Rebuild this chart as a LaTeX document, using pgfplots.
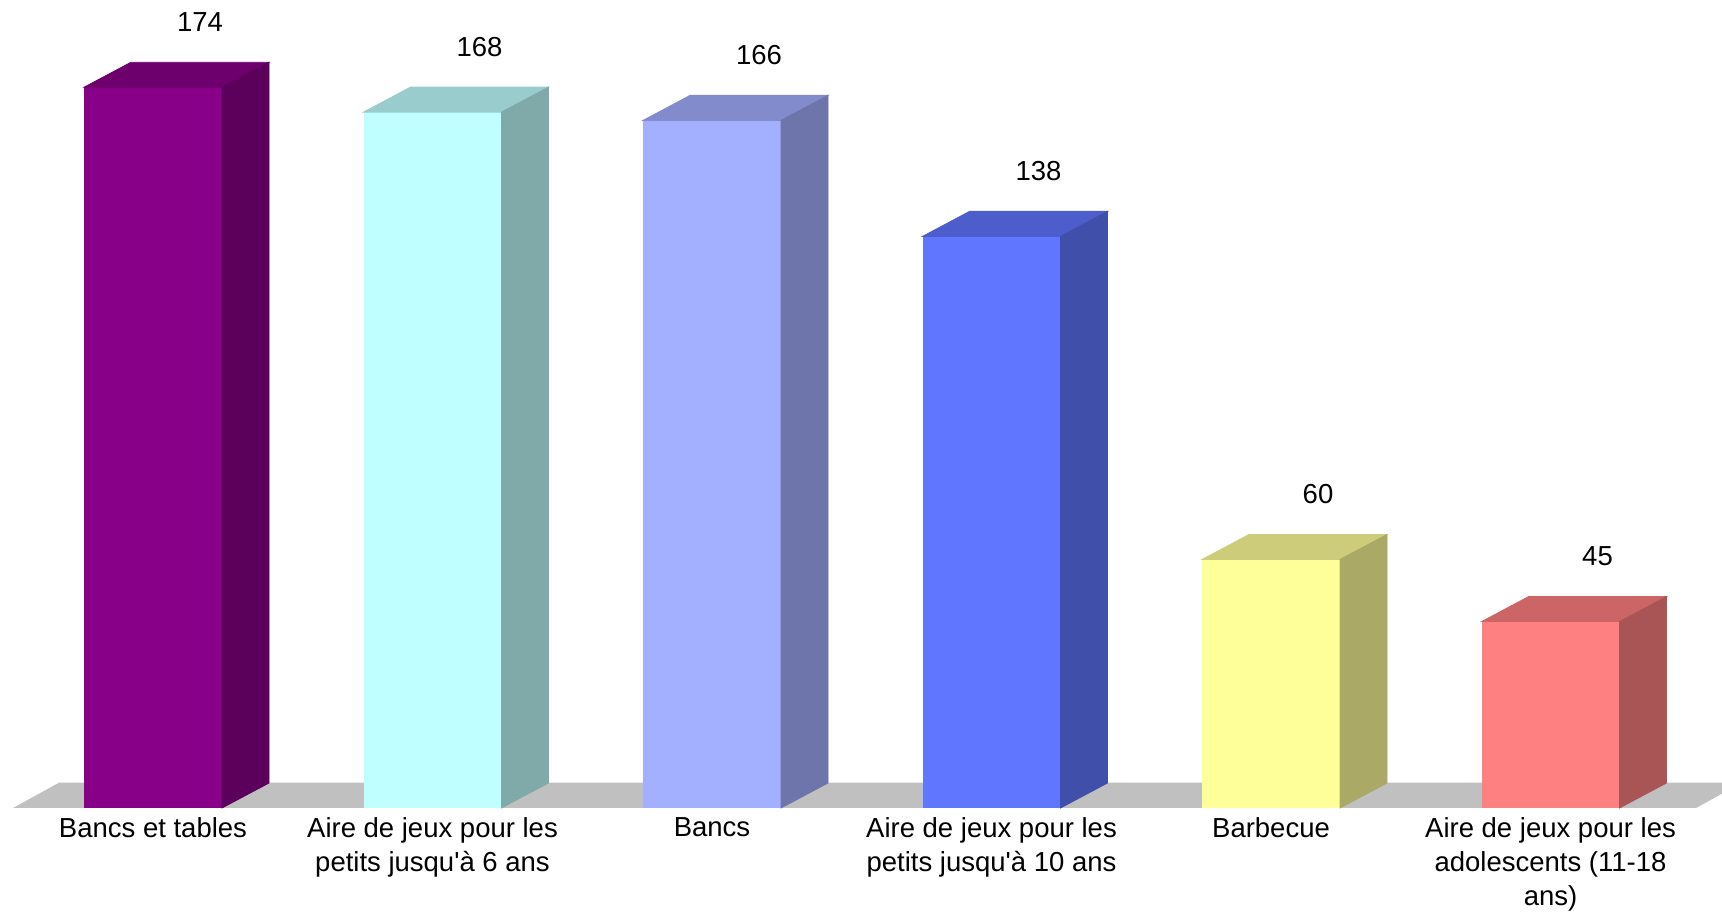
\documentclass[border=0pt]{standalone}
\usepackage{pgfplots}
\pgfplotsset{compat=1.18}
\usepackage{fontspec}
\setmainfont{Liberation Sans}
\usetikzlibrary{calc}

\definecolor{f1}{HTML}{880088}\definecolor{t1}{HTML}{6D006D}\definecolor{s1}{HTML}{5B005B}
\definecolor{f2}{HTML}{C0FFFF}\definecolor{t2}{HTML}{99CCCC}\definecolor{s2}{HTML}{80AAAA}
\definecolor{f3}{HTML}{A3AFFF}\definecolor{t3}{HTML}{828CCC}\definecolor{s3}{HTML}{6D75AA}
\definecolor{f4}{HTML}{6076FF}\definecolor{t4}{HTML}{4D5ECC}\definecolor{s4}{HTML}{404FAA}
\definecolor{f5}{HTML}{FFFF99}\definecolor{t5}{HTML}{CCCC7A}\definecolor{s5}{HTML}{AAAA66}
\definecolor{f6}{HTML}{FF8080}\definecolor{t6}{HTML}{CC6666}\definecolor{s6}{HTML}{AA5555}
\definecolor{floorgray}{HTML}{C0C0C0}

\pgfdeclareplotmark{emptymark}{}

% front face (ybar) + top and side faces (scatter markers at each data point)
\pgfplotsset{
  front/.style={ybar, bar width=69bp, bar shift=0pt, fill=#1, draw=none,
    nodes near coords,
    nodes near coords style={anchor=center, xshift=23.5bp, yshift=32.5bp, inner sep=0pt,
      font=\fontsize{13.8}{17}\selectfont, text=black,
      /pgf/number format/assume math mode=true}},
  faces/.style 2 args={only marks, scatter, point meta=y, mark=emptymark,
    scatter/@pre marker code/.code={%
      \fill[#1] (-34.5bp,0pt) -- (-11bp,12.5bp) -- (58bp,12.5bp) -- (34.5bp,0pt) -- cycle;
      \fill[#2] (34.5bp,0pt) -- (58bp,12.5bp) -- ($(58bp,12.5bp)+(axis direction cs:0,-\pgfplotspointmeta)$)
        -- ($(34.5bp,0pt)+(axis direction cs:0,-\pgfplotspointmeta)$) -- cycle;
    },
    scatter/@post marker code/.code={}},
}

\begin{document}
\begin{tikzpicture}
\begin{axis}[
  scale only axis,
  width=861bp, height=456.5bp,
  xmin=-0.5474, xmax=5.6136,
  ymin=-25.35, ymax=195.07,
  axis line style={draw=none},
  major tick length=0pt,
  ytick=\empty,
  xtick={0,1,2,3,4,5},
  xticklabels={
    Bancs et tables,
    Aire de jeux pour les\\petits jusqu\textquotesingle à 6 ans,
    Bancs,
    Aire de jeux pour les\\petits jusqu\textquotesingle à 10 ans,
    Barbecue,
    Aire de jeux pour les\\adolescents (11-18\\ans)},
  xticklabel shift=-48bp,
  xticklabel style={anchor=north, inner sep=0pt, align=center,
    font=\fontsize{13.8}{17}\selectfont},
  clip=true,
]
\coordinate (ll) at (rel axis cs:0,0);
\coordinate (ur) at (rel axis cs:1,1);
% floor
\fill[floorgray] (axis cs:-0.5009,0) -- ($(axis cs:-0.5009,0)+(23bp,12.65bp)$)
  -- ($(axis cs:5.5206,0)+(23bp,12.65bp)$) -- (axis cs:5.5206,0) -- cycle;

\addplot[front=f1] coordinates {(0,174)};
\addplot[faces={t1}{s1}] coordinates {(0,174)};
\addplot[front=f2] coordinates {(1,168)};
\addplot[faces={t2}{s2}] coordinates {(1,168)};
\addplot[front=f3] coordinates {(2,166)};
\addplot[faces={t3}{s3}] coordinates {(2,166)};
\addplot[front=f4] coordinates {(3,138)};
\addplot[faces={t4}{s4}] coordinates {(3,138)};
\addplot[front=f5] coordinates {(4,60)};
\addplot[faces={t5}{s5}] coordinates {(4,60)};
\addplot[front=f6] coordinates {(5,45)};
\addplot[faces={t6}{s6}] coordinates {(5,45)};
\end{axis}
\pgfresetboundingbox
\path[use as bounding box] (ll) rectangle (ur);
\end{tikzpicture}
\end{document}
